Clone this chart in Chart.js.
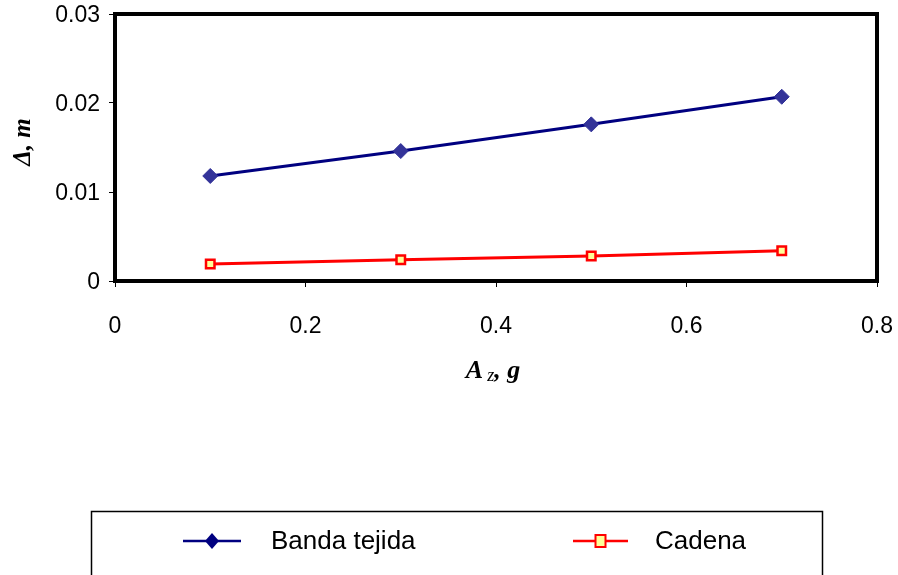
<!DOCTYPE html>
<html>
<head>
<meta charset="utf-8">
<script src="https://cdn.jsdelivr.net/npm/chart.js@4/dist/chart.umd.min.js"></script>
<style>
  html, body { margin: 0; padding: 0; background: #fff; }
  #wrap { width: 898px; height: 575px; }
</style>
</head>
<body>
<div id="wrap"><canvas id="c" width="898" height="575"></canvas></div>
<script>
// Acceleration (g) at which each deformation was computed
const accel = [0.1, 0.3, 0.5, 0.7];
// Deformation Δ (m) for each support type
const bandaTejida = [0.0118, 0.0146, 0.0176, 0.0207];
const cadena = [0.0019, 0.0024, 0.0028, 0.0034];
const seriesNames = ['Banda tejida', 'Cadena'];
// Axis ticks
const xTicks = [0, 0.2, 0.4, 0.6, 0.8];
const yTicks = [0, 0.01, 0.02, 0.03];

const toPoints = ys => accel.map((x, i) => ({ x, y: ys[i] }));

// Frame around the plot, axis titles and the boxed legend below
const decorations = {
  id: 'decorations',
  afterDraw(chart) {
    const { ctx, chartArea: a } = chart;
    ctx.save();
    ctx.strokeStyle = '#000';
    ctx.lineWidth = 4;
    ctx.strokeRect(a.left, a.top, a.right - a.left, a.bottom - a.top);

    const serif = '"Liberation Serif", "DejaVu Serif", serif';
    // y title
    ctx.fillStyle = '#000';
    ctx.font = 'italic bold 25px ' + serif;
    ctx.save();
    ctx.translate(30, 142);
    ctx.rotate(-Math.PI / 2);
    ctx.textAlign = 'center';
    ctx.textBaseline = 'alphabetic';
    ctx.fillText('Δ, m', 0, 0);
    ctx.restore();

    // x title with subscript
    const base = 378;
    ctx.textBaseline = 'alphabetic';
    ctx.textAlign = 'left';
    const big = 'italic bold 26px ' + serif;
    const small = 'italic 18px ' + serif;
    ctx.font = big;
    const wA = ctx.measureText('A').width;
    const wTail = ctx.measureText(', g').width;
    ctx.font = small;
    const wz = ctx.measureText('z').width;
    const gap = 4;
    let x0 = 493 - (wA + gap + wz + wTail) / 2;
    ctx.font = big;
    ctx.fillText('A', x0, base);
    ctx.font = small;
    ctx.fillText('z', x0 + wA + gap, base + 3);
    ctx.font = big;
    ctx.fillText(', g', x0 + wA + gap + wz, base);

    // legend box
    ctx.lineWidth = 1.5;
    ctx.strokeStyle = '#000';
    ctx.strokeRect(91.5, 511.5, 731, 90);
    const items = [
      { ds: chart.data.datasets[0], x1: 183, x2: 241, tx: 271 },
      { ds: chart.data.datasets[1], x1: 573, x2: 628, tx: 655 }
    ];
    const ly = 541;
    items.forEach(it => {
      const ds = it.ds;
      ctx.strokeStyle = ds.borderColor;
      ctx.lineWidth = 2.5;
      ctx.beginPath();
      ctx.moveTo(it.x1, ly);
      ctx.lineTo(it.x2, ly);
      ctx.stroke();
      const cx = (it.x1 + it.x2) / 2;
      if (ds.pointStyle === 'rectRot') {
        ctx.fillStyle = '#000080';
        ctx.beginPath();
        ctx.moveTo(cx, ly - 8);
        ctx.lineTo(cx + 7, ly);
        ctx.lineTo(cx, ly + 8);
        ctx.lineTo(cx - 7, ly);
        ctx.closePath();
        ctx.fill();
      } else {
        ctx.fillStyle = ds.pointBackgroundColor;
        ctx.strokeStyle = ds.pointBorderColor;
        ctx.lineWidth = 2;
        ctx.fillRect(cx - 5, ly - 6, 10, 12);
        ctx.strokeRect(cx - 5, ly - 6, 10, 12);
      }
      ctx.fillStyle = '#000';
      ctx.font = '26px "Liberation Sans", Arial, sans-serif';
      ctx.textAlign = 'left';
      ctx.textBaseline = 'middle';
      ctx.fillText(ds.label, it.tx, ly + 1);
    });
    ctx.restore();
  }
};

const tickFont = { family: '"Liberation Sans", Arial, sans-serif', size: 23 };

new Chart(document.getElementById('c'), {
  type: 'scatter',
  data: {
    datasets: [
      {
        label: seriesNames[0],
        data: toPoints(bandaTejida),
        showLine: true,
        borderColor: '#000080',
        borderWidth: 3,
        pointStyle: 'rectRot',
        pointRadius: 7.5,
        pointHoverRadius: 7.5,
        pointBackgroundColor: '#333399',
        pointBorderColor: '#333399',
        pointBorderWidth: 1
      },
      {
        label: seriesNames[1],
        data: toPoints(cadena),
        showLine: true,
        borderColor: '#ff0000',
        borderWidth: 3,
        pointStyle: 'rect',
        pointRadius: 6,
        pointHoverRadius: 6,
        pointBackgroundColor: '#ffff99',
        pointBorderColor: '#ff0000',
        pointBorderWidth: 2.5
      }
    ]
  },
  options: {
    responsive: false,
    animation: false,
    devicePixelRatio: 1,
    layout: { padding: { left: 0, right: 21, top: 14, bottom: 0 } },
    plugins: { legend: { display: false }, tooltip: { enabled: false } },
    scales: {
      x: {
        type: 'linear',
        min: 0, max: 0.8,
        afterBuildTicks: s => { s.ticks = xTicks.map(v => ({ value: v })); },
        afterFit: s => { s.height = 294; s.paddingRight = 0; s.paddingLeft = 0; },
        grid: { drawOnChartArea: false, color: '#000', tickLength: 6, lineWidth: 1 },
        border: { display: false },
        ticks: {
          color: '#000', font: tickFont, padding: 26, maxRotation: 0,
          callback: v => String(v)
        }
      },
      y: {
        type: 'linear',
        min: 0, max: 0.03,
        afterBuildTicks: s => { s.ticks = yTicks.map(v => ({ value: v })); },
        afterFit: s => { s.width = 115; s.paddingTop = 0; s.paddingBottom = 0; },
        grid: { drawOnChartArea: false, color: '#000', tickLength: 6, lineWidth: 1 },
        border: { display: false },
        ticks: {
          color: '#000', font: tickFont, padding: 9, labelOffset: 2,
          callback: v => String(v)
        }
      }
    }
  },
  plugins: [decorations]
});
</script>
</body>
</html>
